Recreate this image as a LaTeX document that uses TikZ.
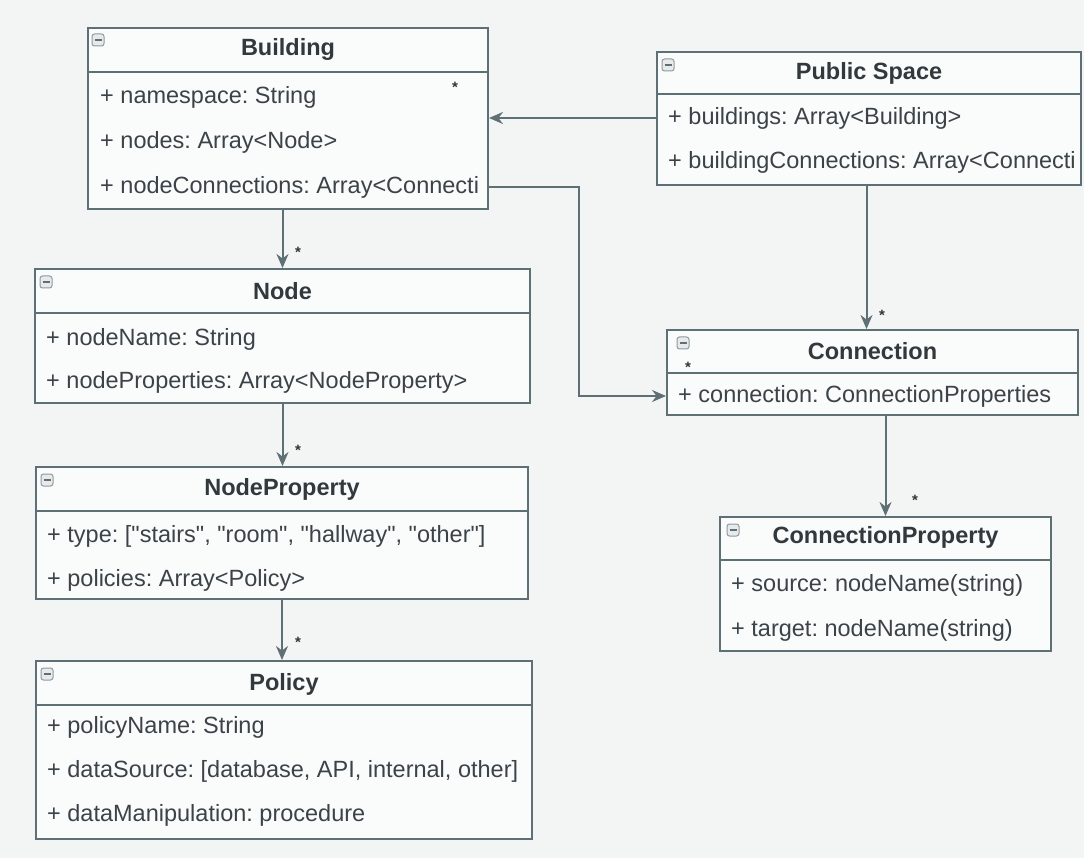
\documentclass[tikz,border=0pt]{standalone}
\usepackage{fontspec}
\setmainfont{Liberation Sans}[Ligatures=TeXOff]
\usetikzlibrary{arrows.meta,positioning}
\definecolor{bgcol}{HTML}{F3F5F5}
\definecolor{boxcol}{HTML}{FAFBFB}
\definecolor{linecol}{HTML}{5F6F76}
\definecolor{textcol}{HTML}{3B4348}
\frenchspacing
\begin{document}
\begin{tikzpicture}[x=1pt,y=-1pt,
  umlbox/.style={draw=linecol, fill=boxcol, line width=2pt, anchor=north west, inner sep=0pt},
  divider/.style={draw=linecol, line width=2pt},
  umltitle/.style={font=\fontsize{23.5}{27}\selectfont\bfseries, text=textcol!85!black},
  umlattr/.style={font=\fontsize{23.5}{28}\selectfont, text=textcol, anchor=west, inner sep=0pt},
  umlicon/.style={draw=linecol!70, fill=linecol!15, rounded corners=2.5pt, minimum size=12pt, inner sep=0pt, line width=1pt,
    path picture={\draw[linecol, line width=1.4pt] ([xshift=2.5pt]path picture bounding box.west) -- ([xshift=-2.5pt]path picture bounding box.east);}},
  umlmult/.style={font=\fontsize{15}{15}\selectfont\bfseries, text=textcol!80!black, inner sep=0pt},
  assoc/.style={draw=linecol, line width=2pt, -{Stealth[length=14pt,width=12pt]}}]
  \fill[bgcol] (0,0) rectangle (1084,858);
  \useasboundingbox (0,0) rectangle (1084,858);

  % Building
  \node[umlbox, minimum width=400pt, minimum height=181pt] (building) at (87,27) {};
  \draw[divider] ([yshift=-45pt]building.north west) -- ([yshift=-45pt]building.north east);
  \node[umlicon] (buildingI) at ([shift={(11,13)}]building.north west) {};
  \node[umltitle] (buildingT) at ([yshift=-22pt]building.north) {Building};
  \node[umlattr] (buildingA1) at ([shift={(13,70)}]building.north west) {+ namespace: String};
  \node[umlattr] (buildingA2) at ([shift={(13,115)}]building.north west) {+ nodes: Array<Node>};
  \node[umlattr] (buildingA3) at ([shift={(13,160)}]building.north west) {+ nodeConnections: Array<Connecti};

  % Public Space
  \node[umlbox, minimum width=424pt, minimum height=133pt] (pubspace) at (656,51) {};
  \draw[divider] ([yshift=-43pt]pubspace.north west) -- ([yshift=-43pt]pubspace.north east);
  \node[umlicon] (pubspaceI) at ([shift={(12,14)}]pubspace.north west) {};
  \node[umltitle] (pubspaceT) at ([yshift=-22pt]pubspace.north) {Public Space};
  \node[umlattr] (pubspaceA1) at ([shift={(12,67)}]pubspace.north west) {+ buildings: Array<Building>};
  \node[umlattr] (pubspaceA2) at ([shift={(12,111)}]pubspace.north west) {+ buildingConnections: Array<Connecti};

  % Node
  \node[umlbox, minimum width=495pt, minimum height=134pt] (nodecls) at (34,268) {};
  \draw[divider] ([yshift=-45pt]nodecls.north west) -- ([yshift=-45pt]nodecls.north east);
  \node[umlicon] (nodeclsI) at ([shift={(12,14)}]nodecls.north west) {};
  \node[umltitle] (nodeclsT) at ([yshift=-23pt]nodecls.north) {Node};
  \node[umlattr] (nodeclsA1) at ([shift={(12,71)}]nodecls.north west) {+ nodeName: String};
  \node[umlattr] (nodeclsA2) at ([shift={(12,114)}]nodecls.north west) {+ nodeProperties: Array<NodeProperty>};

  % NodeProperty
  \node[umlbox, minimum width=492pt, minimum height=132pt] (nodeprop) at (35,466) {};
  \draw[divider] ([yshift=-45pt]nodeprop.north west) -- ([yshift=-45pt]nodeprop.north east);
  \node[umlicon] (nodepropI) at ([shift={(12,14)}]nodeprop.north west) {};
  \node[umltitle] (nodepropT) at ([yshift=-23pt]nodeprop.north) {NodeProperty};
  \node[umlattr] (nodepropA1) at ([shift={(12,70)}]nodeprop.north west) {+ type: ["stairs", "room", "hallway", "other"]};
  \node[umlattr] (nodepropA2) at ([shift={(12,114)}]nodeprop.north west) {+ policies: Array<Policy>};

  % Policy
  \node[umlbox, minimum width=496pt, minimum height=178pt] (policy) at (35,660) {};
  \draw[divider] ([yshift=-45pt]policy.north west) -- ([yshift=-45pt]policy.north east);
  \node[umlicon] (policyI) at ([shift={(12,14)}]policy.north west) {};
  \node[umltitle] (policyT) at ([yshift=-24pt]policy.north) {Policy};
  \node[umlattr] (policyA1) at ([shift={(12,67)}]policy.north west) {+ policyName: String};
  \node[umlattr] (policyA2) at ([shift={(12,111)}]policy.north west) {+ dataSource: [database, API, internal, other]};
  \node[umlattr] (policyA3) at ([shift={(12,155)}]policy.north west) {+ dataManipulation: procedure};

  % Connection
  \node[umlbox, minimum width=411pt, minimum height=85pt] (connection) at (666,329) {};
  \draw[divider] ([yshift=-44pt]connection.north west) -- ([yshift=-44pt]connection.north east);
  \node[umlicon] (connectionI) at ([shift={(17,14)}]connection.north west) {};
  \node[umltitle] (connectionT) at ([yshift=-22pt]connection.north) {Connection};
  \node[umlattr] (connectionA1) at ([shift={(12,67)}]connection.north west) {+ connection: ConnectionProperties};

  % ConnectionProperty
  \node[umlbox, minimum width=331pt, minimum height=134pt] (connprop) at (719,516) {};
  \draw[divider] ([yshift=-44pt]connprop.north west) -- ([yshift=-44pt]connprop.north east);
  \node[umlicon] (connpropI) at ([shift={(14,14)}]connprop.north west) {};
  \node[umltitle] (connpropT) at ([yshift=-21pt]connprop.north) {ConnectionProperty};
  \node[umlattr] (connpropA1) at ([shift={(12,69)}]connprop.north west) {+ source: nodeName(string)};
  \node[umlattr] (connpropA2) at ([shift={(12,114)}]connprop.north west) {+ target: nodeName(string)};

  % associations
  \coordinate (psdrop) at ([xshift=-6pt]connection.north);
  \draw[assoc] (pubspace.west |- pubspaceA1) -- (building.east |- pubspaceA1);
  \draw[assoc] (building.south -| nodecls.north) -- (nodecls.north);
  \draw[assoc] (nodecls.south) -- (nodeprop.north -| nodecls.south);
  \draw[assoc] (nodeprop.south) -- (policy.north -| nodeprop.south);
  \draw[assoc] (building.east |- buildingA3) -- ++(90,0) |- (connection.west |- connectionA1);
  \draw[assoc] (psdrop |- pubspace.south) -- (psdrop);
  \draw[assoc] (connection.south -| connprop.north) -- (connprop.north);

  % multiplicities
  \node[umlmult] (m1) at (455,87) {*};
  \node[umlmult] (m2) at (298,252) {*};
  \node[umlmult] (m3) at (298,450) {*};
  \node[umlmult] (m4) at (298,642) {*};
  \node[umlmult] (m5) at (882,315) {*};
  \node[umlmult] (m6) at (688,367) {*};
  \node[umlmult] (m7) at (915,500) {*};
\end{tikzpicture}
\end{document}
